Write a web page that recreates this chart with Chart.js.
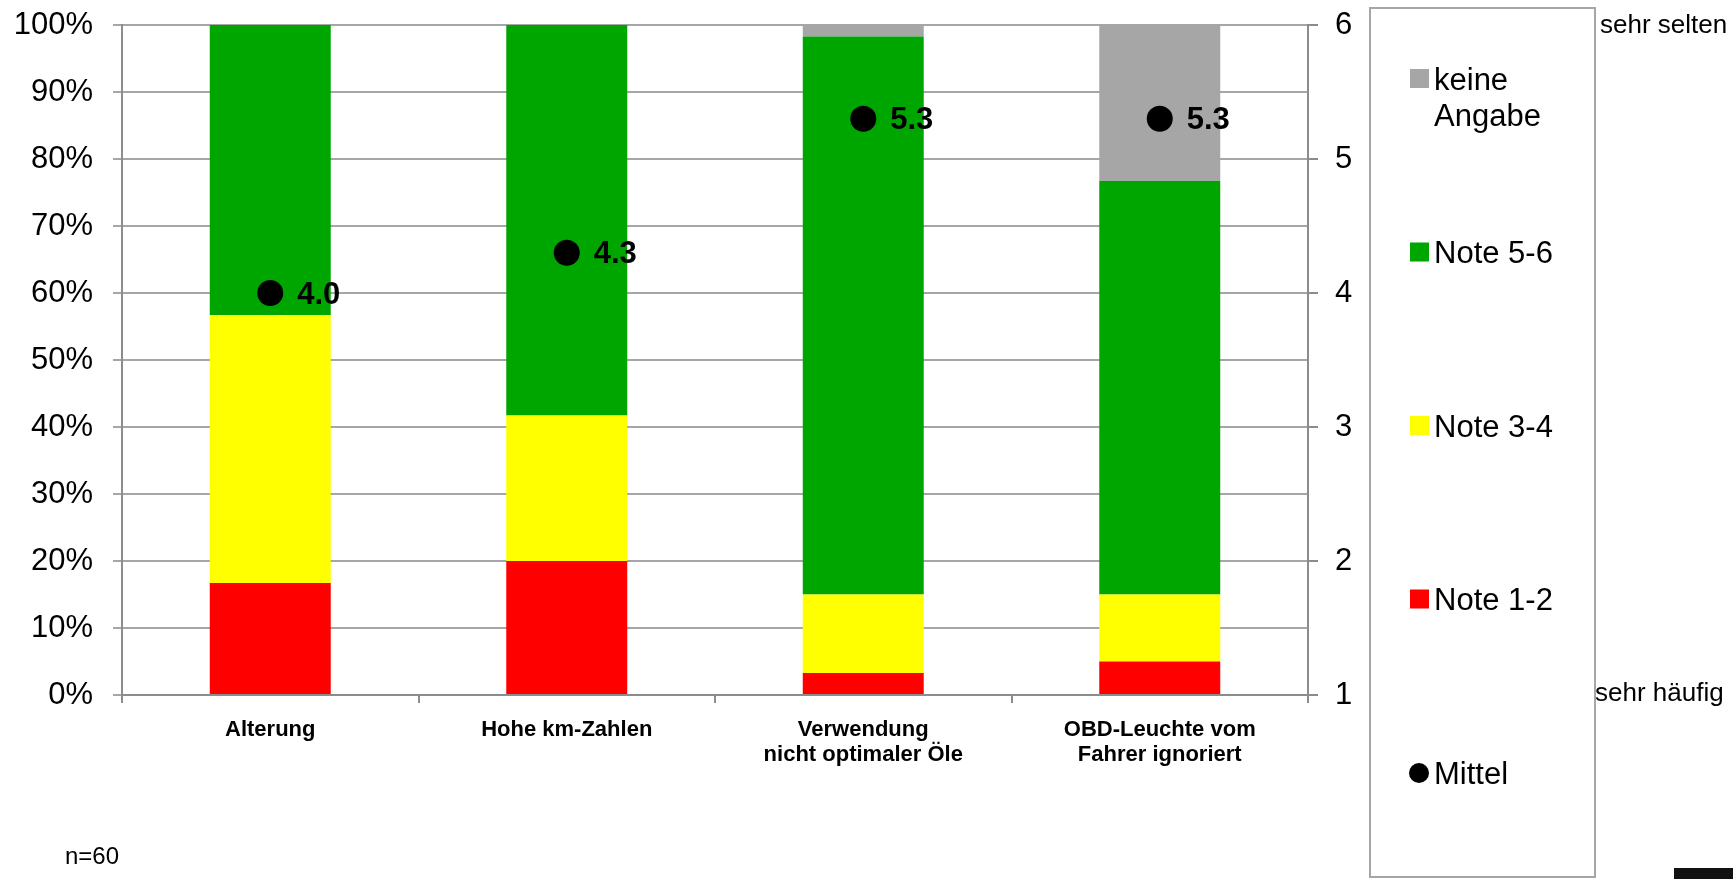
<!DOCTYPE html>
<html>
<head>
<meta charset="utf-8">
<script src="https://cdn.jsdelivr.net/npm/chart.js@4"></script>
<style>
  html, body { margin: 0; padding: 0; background: #fff; }
  #wrap { position: relative; width: 1733px; height: 879px; }
  #blob { position: absolute; left: 1674px; top: 868px; width: 59px; height: 11px; background: #111; }
</style>
</head>
<body>
<div id="wrap">
  <canvas id="chart" width="1733" height="879"></canvas>
  <div id="blob"></div>
</div>
<script>
const categories = [
  ['Alterung'],
  ['Hohe km-Zahlen'],
  ['Verwendung', 'nicht optimaler Öle'],
  ['OBD-Leuchte vom', 'Fahrer ignoriert']
];
// share of answers in % (n=60)
const note12 = [16.7, 20.0, 3.3, 5.0];
const note34 = [40.0, 21.7, 11.7, 10.0];
const note56 = [43.3, 58.3, 83.3, 61.7];
const keineAngabe = [0, 0, 1.7, 23.3];
// mean grade, right axis 1..6
const mittel = [4.0, 4.3, 5.3, 5.3];

const FONT = '"Liberation Sans", Arial, Helvetica, sans-serif';
const GRID = '#a6a6a6';
const AXIS = '#8c8c8c';

const legendOrder = ['keine Angabe', 'Note 5-6', 'Note 3-4', 'Note 1-2', 'Mittel'];

const extras = {
  id: 'extras',
  afterDatasetsDraw(chart) {
    const ctx = chart.ctx;
    const idx = chart.data.datasets.findIndex(d => d.label === 'Mittel');
    const meta = chart.getDatasetMeta(idx);
    ctx.save();
    ctx.fillStyle = '#000';
    ctx.font = 'bold 31px ' + FONT;
    ctx.textAlign = 'left';
    ctx.textBaseline = 'middle';
    meta.data.forEach((pt, i) => {
      ctx.fillText(mittel[i].toFixed(1), pt.x + 27, pt.y + 2);
    });
    ctx.restore();
  },
  afterDraw(chart) {
    const ctx = chart.ctx;
    ctx.save();
    // legend box
    ctx.strokeStyle = GRID;
    ctx.lineWidth = 2;
    ctx.strokeRect(1370, 8, 225, 869);
    ctx.font = '31px ' + FONT;
    ctx.textBaseline = 'middle';
    ctx.textAlign = 'left';
    legendOrder.forEach((name, i) => {
      const ds = chart.data.datasets.find(d => d.label === name);
      const cy = 79 + i * 173.5;
      ctx.fillStyle = ds.backgroundColor;
      if (ds.type === 'line') {
        ctx.beginPath();
        ctx.arc(1419, cy, 10, 0, Math.PI * 2);
        ctx.fill();
      } else {
        ctx.fillRect(1410, cy - 10, 19, 19);
      }
      ctx.fillStyle = '#000';
      // wrap words when too wide for the box
      const words = name.split(' ');
      let lines = [], cur = '';
      words.forEach(w => {
        const test = cur ? cur + ' ' + w : w;
        if (ctx.measureText(test).width > 155 && cur) { lines.push(cur); cur = w; }
        else cur = test;
      });
      lines.push(cur);
      lines.forEach((l, j) => ctx.fillText(l, 1434, cy + 2 + j * 36));
    });
    // side notes for the right scale
    const y2 = chart.scales.y2;
    ctx.font = '26px ' + FONT;
    ctx.fillText('sehr selten', 1600, y2.getPixelForValue(6) + 1);
    ctx.fillText('sehr häufig', 1595, y2.getPixelForValue(1) - 1);
    ctx.font = '24px ' + FONT;
    ctx.fillText('n=60', 65, 857);
    ctx.restore();
  }
};

// keep the plot area where the reference has it
const noPad = a => { a.paddingTop = 0; a.paddingBottom = 0; };

new Chart(document.getElementById('chart'), {
  type: 'bar',
  data: {
    labels: categories,
    datasets: [
      { type: 'line', label: 'Mittel', data: mittel, yAxisID: 'y2', showLine: false,
        backgroundColor: '#000', borderColor: '#000', pointRadius: 13, pointBorderWidth: 0, order: 0 },
      { label: 'Note 1-2', data: note12, backgroundColor: '#ff0000', order: 1 },
      { label: 'Note 3-4', data: note34, backgroundColor: '#ffff00', order: 1 },
      { label: 'Note 5-6', data: note56, backgroundColor: '#00a600', order: 1 },
      { label: 'keine Angabe', data: keineAngabe, backgroundColor: '#a6a6a6', order: 1 }
    ]
  },
  options: {
    responsive: false,
    animation: false,
    layout: { padding: { top: 25, left: 0, right: 0, bottom: 0 } },
    datasets: { bar: { barPercentage: 0.408, categoryPercentage: 1, borderWidth: 0 } },
    plugins: { legend: { display: false }, tooltip: { enabled: false } },
    scales: {
      x: {
        stacked: true,
        grid: { drawOnChartArea: false, tickLength: 8, color: AXIS, lineWidth: 2 },
        border: { color: AXIS, width: 2 },
        ticks: { color: '#000', padding: 14, maxRotation: 0, font: { family: FONT, size: 22, weight: 'bold', lineHeight: 1.15 } },
        afterFit: a => { a.height = 184; a.paddingLeft = 0; a.paddingRight = 0; }
      },
      y: {
        stacked: true,
        min: 0, max: 100,
        grid: { color: GRID, lineWidth: 2, tickLength: 9 },
        border: { color: AXIS, width: 2 },
        ticks: { stepSize: 10, color: '#000', padding: 20, font: { family: FONT, size: 31 }, callback: v => v + '%' },
        afterFit: a => { a.width = 122; noPad(a); }
      },
      y2: {
        position: 'right',
        min: 1, max: 6,
        grid: { drawOnChartArea: false, color: AXIS, lineWidth: 2, tickLength: 10 },
        border: { color: AXIS, width: 2 },
        ticks: { stepSize: 1, color: '#000', padding: 17, font: { family: FONT, size: 31 } },
        afterFit: a => { a.width = 425; noPad(a); }
      }
    }
  },
  plugins: [extras]
});
</script>
</body>
</html>
